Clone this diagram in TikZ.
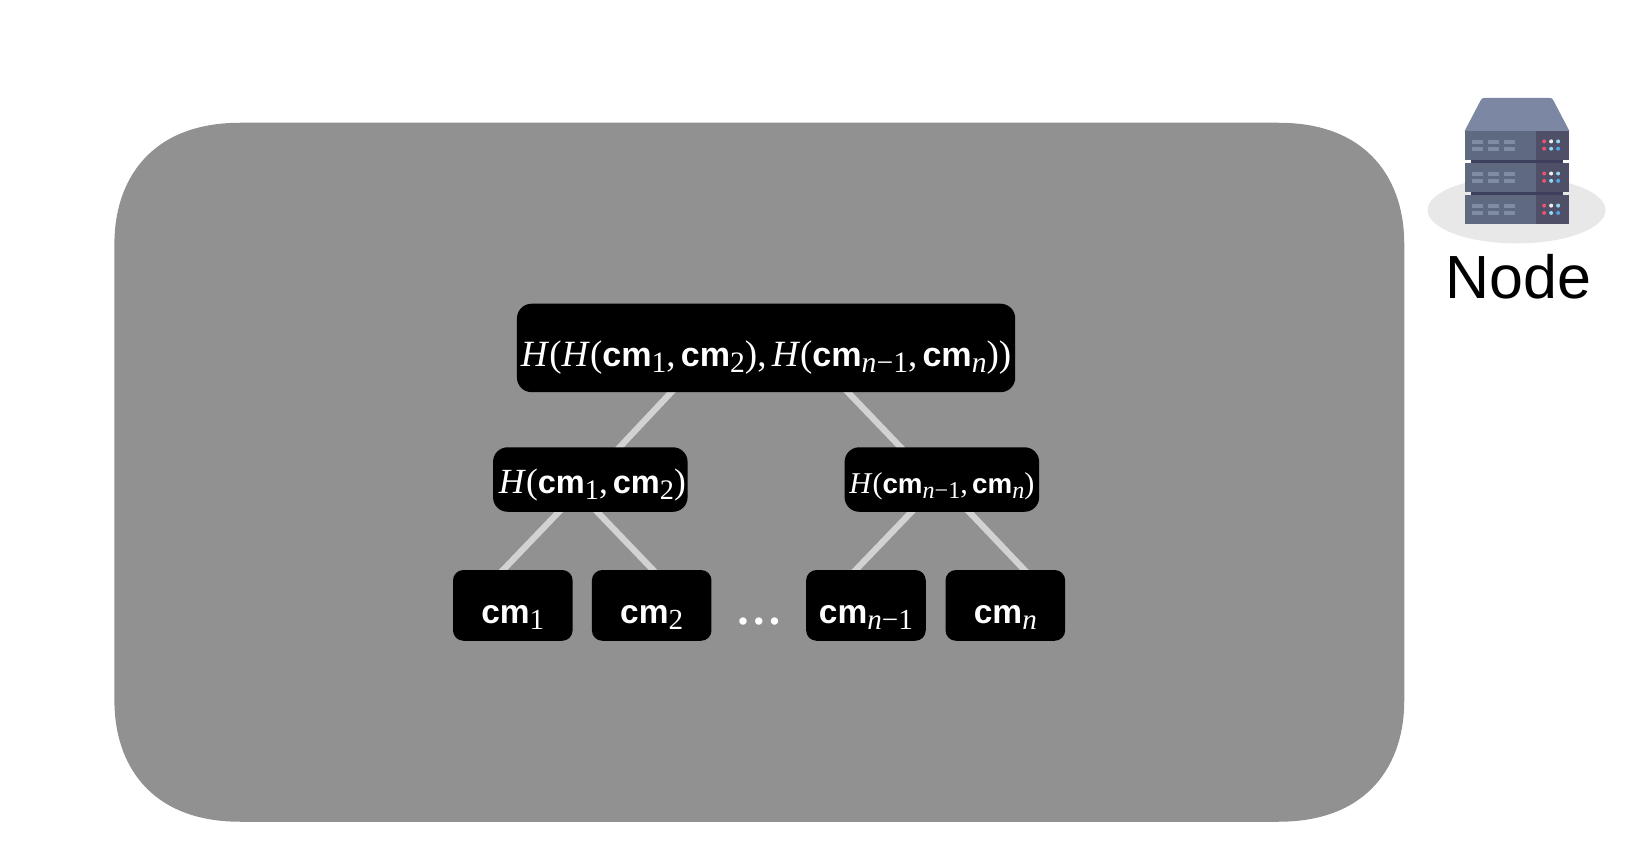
\documentclass[tikz,border=0pt]{standalone}
\usepackage{fontspec}
\setmainfont{Liberation Serif}
\setsansfont{Liberation Sans}
\newfontfamily\cmfont[Scale=0.92]{Liberation Sans}
\usetikzlibrary{backgrounds}

\definecolor{panelgray}{HTML}{919191}
\definecolor{linkgray}{HTML}{D2D2D2}
\definecolor{shadowgray}{HTML}{E8E8E8}
\definecolor{roofblue}{HTML}{7C88A3}
\definecolor{rackblue}{HTML}{5F6A80}
\definecolor{rackdark}{HTML}{4F4F68}
\definecolor{gapdark}{HTML}{3D3D5C}
\definecolor{slotblue}{HTML}{7F8CA3}
\definecolor{ledred}{HTML}{E8546F}
\definecolor{ledwhite}{HTML}{F0F0F0}
\definecolor{ledsky}{HTML}{8FD8F0}
\definecolor{ledblue}{HTML}{4FA8E0}

\newcommand{\cmsub}[1]{{\cmfont\bfseries cm}\raisebox{-0.38ex}{\fontsize{0.8em}{1em}\selectfont\rmfamily #1}}
\newcommand{\hash}{\textit{H}}
\newcommand{\nsub}{\textit{n}}
\newcommand{\nminus}{\textit{n}−1}
\newcommand{\csep}{,\kern0.14em}

\tikzset{
  hashbox/.style={fill=black,text=white,rounded corners=7pt,inner sep=0pt,align=center},
  link/.style={draw=linkgray,line width=3pt,shorten <=-2pt,shorten >=-2pt},
  leafbox/.style={hashbox,rounded corners=5pt,minimum width=57.5pt,minimum height=34pt,text height=17.5pt,text depth=0pt,font=\fontsize{17.5pt}{19pt}\selectfont}
}

\begin{document}
\begin{tikzpicture}[x=0.5pt,y=-0.5pt]
  \useasboundingbox (0,0) rectangle (1568,825);

  % tree
  \node[hashbox,minimum width=239.5pt,minimum height=42.5pt,text height=17.5pt,text depth=0pt,font=\fontsize{17.8pt}{19pt}\selectfont] (root) at (736.5,334.5)
    {\hash(\hash(\cmsub{1}\csep\cmsub{2})\csep\hash(\cmsub{\nminus}\csep\cmsub{\nsub}))};
  \node[hashbox,minimum width=93.5pt,minimum height=31pt,text height=13pt,text depth=0pt,font=\fontsize{17pt}{19pt}\selectfont] (hleft) at (567.5,461)
    {\kern2pt\hash(\cmsub{1}\csep\cmsub{2})};
  \node[hashbox,minimum width=93.5pt,minimum height=31pt,text height=13pt,text depth=0pt,font=\fontsize{14.5pt}{16pt}\selectfont] (hright) at (905.5,461)
    {\hash(\cmsub{\nminus}\csep\cmsub{\nsub})};
  \node[leafbox] (cma) at (493,582) {\cmsub{1}};
  \node[leafbox] (cmb) at (626.5,582) {\cmsub{2}};
  \node[leafbox] (cmc) at (832.5,582) {\cmsub{\nminus}};
  \node[leafbox] (cmd) at (966.5,582) {\cmsub{\nsub}};
  \node[text=white,anchor=base,inner sep=0pt,font=\sffamily\fontsize{13pt}{15pt}\selectfont] (gap) at (729.5,606.5) {•\kern3pt•\kern3pt•};

  \begin{pgfonlayer}{background}
    % panel
    \fill[panelgray] (110,234) .. controls (110,175) and (143,118) .. (231,118)
      -- (1229,118) .. controls (1317,118) and (1350,175) .. (1350,234)
      -- (1350,674) .. controls (1350,733) and (1317,790) .. (1229,790)
      -- (231,790) .. controls (143,790) and (110,733) .. (110,674) -- cycle;
    \draw[link] ([xshift=-45.75pt]root.south) -- ([xshift=14.25pt]hleft.north);
    \draw[link] ([xshift=39.5pt]root.south) -- ([xshift=-20pt]hright.north);
    \draw[link] ([xshift=-15.25pt]hleft.south) -- ([xshift=-4.5pt]cma.north);
    \draw[link] ([xshift=3.5pt]hleft.south) -- ([xshift=0.5pt]cmb.north);
    \draw[link] ([xshift=-14.75pt]hright.south) -- ([xshift=-4.75pt]cmc.north);
    \draw[link] ([xshift=13.25pt]hright.south) -- ([xshift=9pt]cmd.north);
  \end{pgfonlayer}

  % server icon
  \fill[shadowgray] (1458,202) ellipse [x radius=85.5,y radius=32];
  \begin{scope}[shift={(1408,126)},x=0.16pt,y=-0.16pt]
    \fill[roofblue] (0,0) -- (46,-88) .. controls (52,-100) and (55,-100) .. (65,-100)
      -- (250,-100) .. controls (260,-100) and (263,-100) .. (269,-88) -- (315,0) -- cycle;
    \fill[gapdark] (19,86) rectangle (297,96.5);
    \fill[gapdark] (19,182.5) rectangle (297,193);
    \foreach \rack in {0,96.5,193} {
      \begin{scope}[yshift=-\rack*0.16pt]
        \fill[rackblue] (0,0) rectangle (214,86);
        \fill[rackdark] (214,0) rectangle (315,86);
        \foreach \slot in {22,69,117} {
          \fill[slotblue] (\slot,26) rectangle ++(34,12);
          \fill[slotblue] (\slot,47) rectangle ++(34,12);
        }
        \fill[ledred] (239,31) circle [radius=6];
        \fill[ledwhite] (260,31) circle [radius=6];
        \fill[ledsky] (281,31) circle [radius=6];
        \fill[ledred] (239,53) circle [radius=6];
        \fill[ledsky] (260,53) circle [radius=6];
        \fill[ledblue] (281,53) circle [radius=6];
      \end{scope}
    }
  \end{scope}
  \node[font=\sffamily\fontsize{29.3pt}{32pt}\selectfont] (nodelabel) at (1460,266) {Node};
\end{tikzpicture}
\end{document}
